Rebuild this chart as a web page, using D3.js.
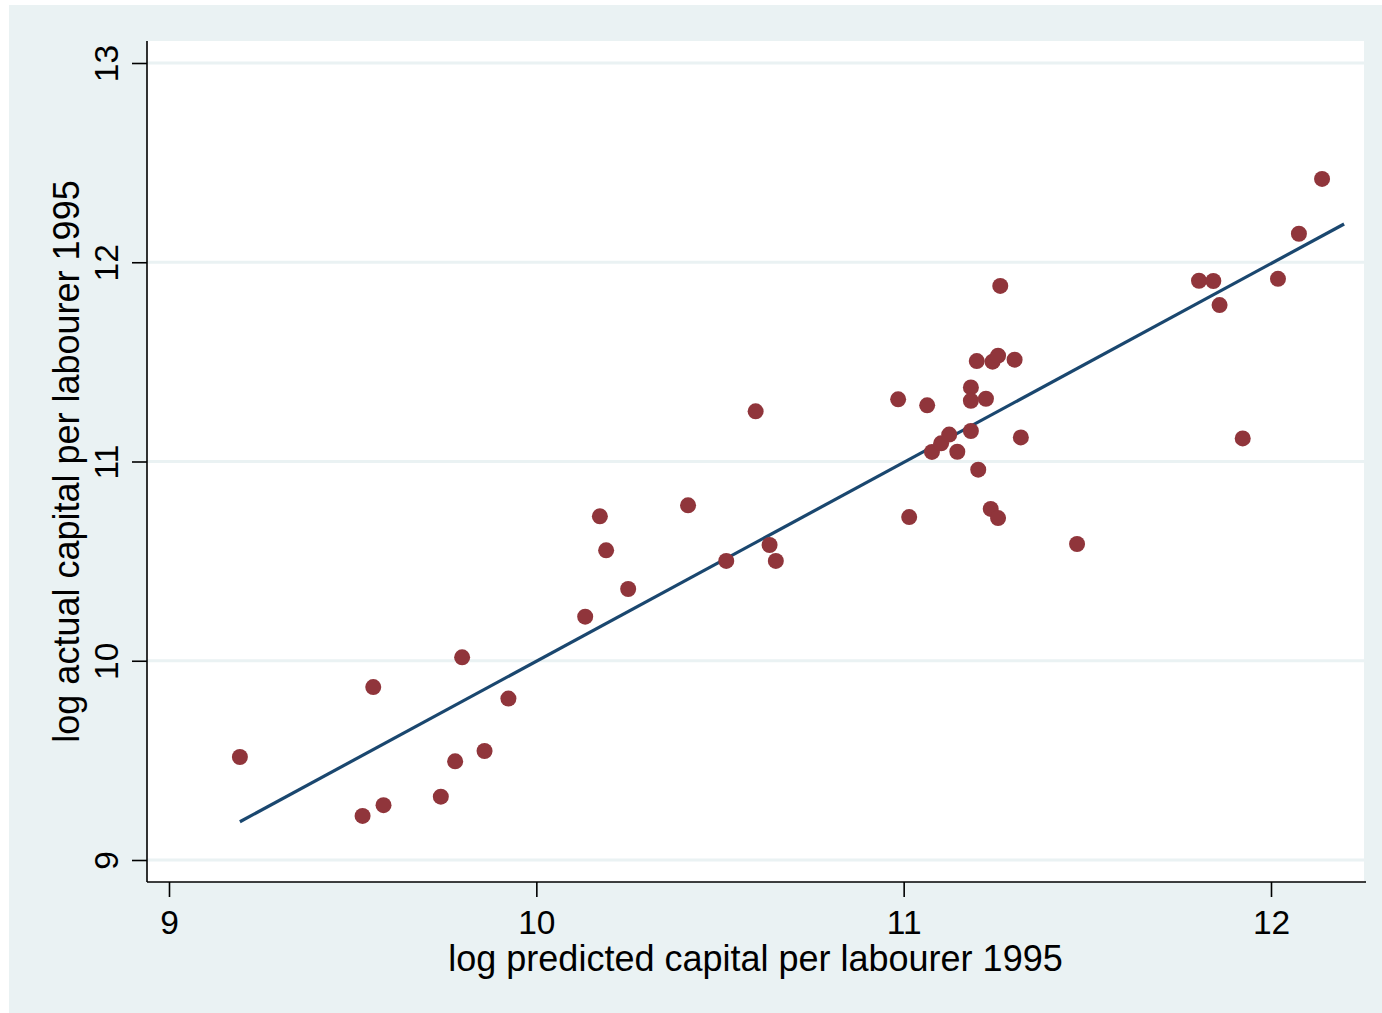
<!DOCTYPE html>
<html>
<head>
<meta charset="utf-8">
<script src="https://cdn.jsdelivr.net/npm/d3@7"></script>
<style>
  html, body { margin: 0; padding: 0; background: #fff; }
  text { font-family: "Liberation Sans", Arial, sans-serif; fill: #000; }
</style>
</head>
<body>
<svg id="chart" width="1382" height="1013"></svg>
<script>
// observed points: log predicted (x) vs log actual (y) capital per labourer, 1995
var predicted = [9.193, 9.556, 9.527, 9.584, 9.740, 9.779, 9.798, 9.859, 9.924, 10.133,
  10.173, 10.190, 10.250, 10.413, 10.517, 10.597, 10.635, 10.652, 10.985, 11.015,
  11.064, 11.077, 11.102, 11.124, 11.146, 11.183, 11.183, 11.183, 11.199, 11.203,
  11.224, 11.237, 11.242, 11.257, 11.257, 11.263, 11.302, 11.319, 11.472, 11.804,
  11.843, 11.860, 11.923, 12.019, 12.076, 12.139]
var actual = [9.517, 9.868, 9.221, 9.275, 9.318, 9.495, 10.017, 9.547, 9.810, 10.221,
  10.725, 10.554, 10.360, 10.780, 10.501, 11.252, 10.581, 10.501, 11.312, 10.721,
  11.282, 11.048, 11.091, 11.135, 11.049, 11.372, 11.305, 11.153, 11.504, 10.959,
  11.315, 10.762, 11.501, 11.531, 10.716, 11.881, 11.511, 11.121, 10.586, 11.907,
  11.906, 11.785, 11.116, 11.917, 12.143, 12.418]

// fitted line end points
var fitX = [9.193, 12.199]
var fitY = [9.192, 12.192]

var xTicks = [9, 10, 11, 12]
var yTicks = [9, 10, 11, 12, 13]

var xTitle = 'log predicted capital per labourer 1995'
var yTitle = 'log actual capital per labourer 1995'

var bg = '#eaf2f3'
var navy = '#1a476f'
var maroon = '#90353b'

var plot = {left: 147, right: 1364, top: 41, bottom: 882}

var svg = d3.select('#chart')

var x = d3.scaleLinear().domain([9, 12]).range([169, 1271])
var y = d3.scaleLinear().domain([9, 13]).range([860, 63])

// graph region
svg.append('rect')
  .attr('x', 9).attr('y', 5)
  .attr('width', 1382 - 9).attr('height', 1013 - 5)
  .attr('fill', bg)

// plot region
svg.append('rect')
  .attr('x', plot.left).attr('y', plot.top)
  .attr('width', plot.right - plot.left).attr('height', plot.bottom - plot.top)
  .attr('fill', '#fff')

// horizontal grid
svg.append('g').selectAll('line')
  .data(yTicks)
  .join('line')
  .attr('x1', plot.left).attr('x2', plot.right)
  .attr('y1', d => y(d)).attr('y2', d => y(d))
  .attr('stroke', bg)
  .attr('stroke-width', 3)

// x axis
var xAxis = svg.append('g')
  .attr('transform', 'translate(0,' + plot.bottom + ')')
  .call(d3.axisBottom(x).tickValues(xTicks).tickFormat(d3.format('d')).tickSize(15).tickSizeOuter(0))
xAxis.select('.domain').attr('d', 'M' + plot.left + ',0H' + (plot.right + 2)).attr('stroke-width', 1.6)
xAxis.selectAll('.tick line').attr('stroke-width', 1.6)
xAxis.selectAll('.tick text')
  .attr('y', 52).attr('dy', null)
  .style('font-size', '33.5px')
  .style('font-family', '"Liberation Sans", Arial, sans-serif')

// y axis
var yAxis = svg.append('g')
  .attr('transform', 'translate(' + plot.left + ',0)')
  .call(d3.axisLeft(y).tickValues(yTicks).tickFormat(d3.format('d')).tickSize(15).tickSizeOuter(0))
yAxis.select('.domain').attr('d', 'M0,' + plot.top + 'V' + plot.bottom).attr('stroke-width', 1.6)
yAxis.selectAll('.tick line').attr('stroke-width', 1.6)
yAxis.selectAll('.tick text')
  .attr('x', null).attr('dy', null)
  .attr('text-anchor', 'middle')
  .attr('transform', 'translate(-29,0) rotate(-90)')
  .style('font-size', '33.5px')
  .style('font-family', '"Liberation Sans", Arial, sans-serif')

// fitted line
var line = d3.line().x(d => x(d[0])).y(d => y(d[1]))
svg.append('path')
  .datum(d3.zip(fitX, fitY))
  .attr('d', line)
  .attr('fill', 'none')
  .attr('stroke', navy)
  .attr('stroke-width', 3.2)

// scatter
svg.append('g').selectAll('circle')
  .data(d3.zip(predicted, actual))
  .join('circle')
  .attr('cx', d => x(d[0]))
  .attr('cy', d => y(d[1]))
  .attr('r', 8)
  .attr('fill', maroon)

// axis titles
svg.append('text')
  .attr('x', (plot.left + plot.right) / 2)
  .attr('y', 971)
  .attr('text-anchor', 'middle')
  .style('font-size', '36px')
  .text(xTitle)

svg.append('text')
  .attr('transform', 'translate(79,' + (plot.top + plot.bottom) / 2 + ') rotate(-90)')
  .attr('text-anchor', 'middle')
  .style('font-size', '36px')
  .text(yTitle)
</script>
</body>
</html>
